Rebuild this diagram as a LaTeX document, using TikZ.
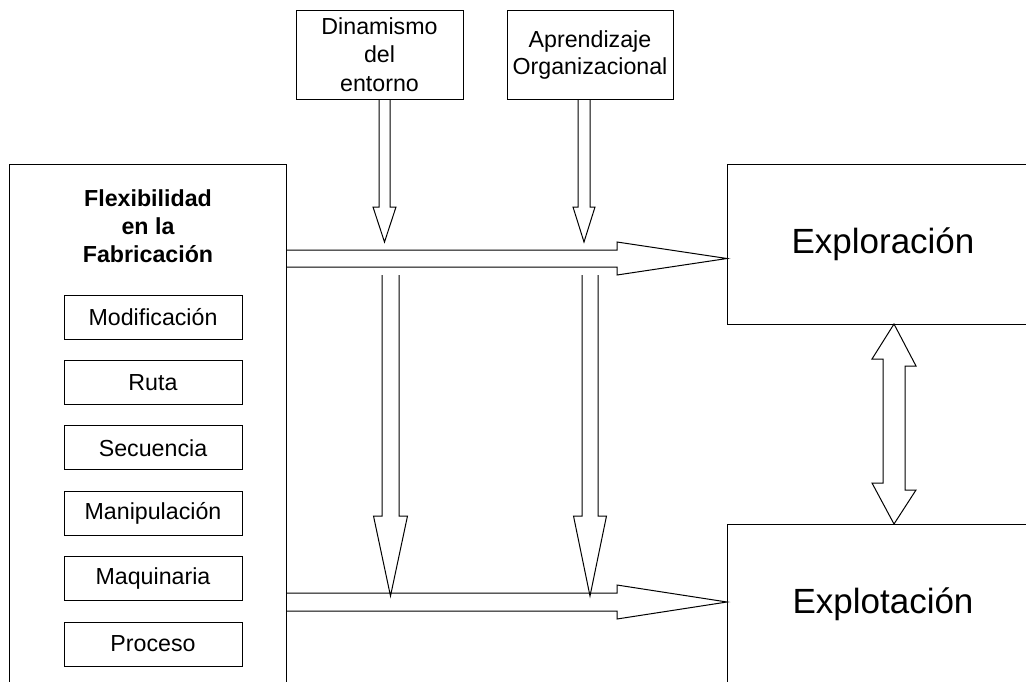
\documentclass[tikz,border=0pt]{standalone}
\usepackage{fontspec}
\setmainfont{Liberation Sans}
\usetikzlibrary{calc}
\tikzstyle{box}=[draw, rectangle, outer sep=0pt, inner sep=0pt, align=center]
\tikzstyle{item}=[box, minimum width=178, minimum height=44, font=\fontsize{23.2}{28}\selectfont]
\tikzstyle{big}=[box, anchor=north west, minimum width=312, minimum height=160, font=\fontsize{35}{40}\selectfont]
% hollow block arrow: from, to, shaft half width, head half width, head length
\newcommand{\fatarrow}[5]{%
    \path ($(#2)!#5!(#1)$) coordinate (hb);
    \draw ($(#1)!#3!90:(#2)$) -- ($(hb)!#3!90:(#2)$) -- ($(hb)!#4!90:(#2)$) -- (#2)
        -- ($(hb)!#4!-90:(#2)$) -- ($(hb)!#3!-90:(#2)$) -- ($(#1)!#3!-90:(#2)$);
}

\begin{document}
\begin{tikzpicture}[x=1pt, y=-1pt, line width=1pt]
    \useasboundingbox (0,0) rectangle (1026,681);
% Boxes
    \node[box, anchor=north west, minimum width=277, minimum height=540] (flex) at (9,164) {};
    \node[font=\bfseries\fontsize{23.2}{28}\selectfont, align=center] (title) at (148,226) {Flexibilidad\\en la\\Fabricación};
    \node[item] (mod) at (153,317) {Modificación};
    \node[item] (ruta) at (153,382.4) {Ruta};
    \node[item] (sec) at (153,447.8) {Secuencia};
    \node[item] (man) at (153,513.2) {Manipulación};
    \node[item] (maq) at (153,578.6) {Maquinaria};
    \node[item] (proc) at (153,644) {Proceso};
    \node[box, minimum width=167, minimum height=89, font=\fontsize{23.2}{28.5}\selectfont] (din) at (379.5,54.5) {Dinamismo\\del\\entorno};
    \node[box, minimum width=166, minimum height=89, font=\fontsize{23.2}{27}\selectfont] (apr) at (590,54.5) {Aprendizaje\\Organizacional};
    \node[big] (explor) at (727,164) {Exploración};
    \node[big] (explot) at (727,524) {Explotación};
% Arrow lines
    \coordinate (hi) at (0,258.5);
    \coordinate (lo) at (0,602);
    \coordinate (dl) at (384.5,0);
    \coordinate (dr) at (584,0);
    \coordinate (ll) at (390.5,275);
    \coordinate (lr) at (590,275);
    \fatarrow{flex.east |- hi}{explor.west |- hi}{8.5pt}{16.5pt}{110pt}
    \fatarrow{flex.east |- lo}{explot.west |- lo}{9pt}{17pt}{110pt}
    \fatarrow{din.south -| dl}{dl |- 0,242}{5.5pt}{11.5pt}{35pt}
    \fatarrow{apr.south -| dr}{dr |- 0,242}{6pt}{11pt}{35pt}
    \fatarrow{ll}{ll |- 0,596}{8.5pt}{17pt}{80pt}
    \fatarrow{lr}{lr |- 0,596}{8pt}{16.5pt}{80pt}
% Double arrow
    \coordinate (t1) at ($(explor.south)+(11,0)$);
    \coordinate (t2) at ($(explot.north)+(11,0)$);
    \draw (t1) -- ++(22,42) -- ++(-11,0) -- ++(0,124) -- ++(11,0) -- (t2)
        -- ++(-22,-41) -- ++(11,0) -- ++(0,-124) -- ++(-11,0) -- cycle;
\end{tikzpicture}
\end{document}
